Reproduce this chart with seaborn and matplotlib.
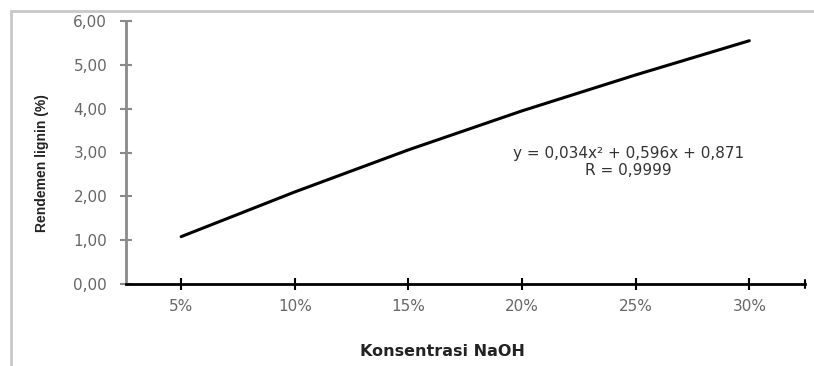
import matplotlib
matplotlib.use("Agg")
import matplotlib.pyplot as plt
import seaborn as sns
import numpy as np
import pandas as pd
from matplotlib.patches import Rectangle
from matplotlib.ticker import FuncFormatter, MultipleLocator

categories = ["5%", "10%", "15%", "20%", "25%", "30%"]
rendemen = [1.08, 2.10, 3.06, 3.95, 4.77, 5.55]
equation = "y = 0,034x\u00b2 + 0,596x + 0,871"
r_text = "R = 0,9999"

sns.set_theme(style="white")
plt.rcParams['font.family'] = ['DejaVu Sans']

df = pd.DataFrame({"konsentrasi": categories, "rendemen": rendemen})

fig = plt.figure(figsize=(8.14, 3.66), dpi=100)
ax = fig.add_axes([126/814, 1-284/366, (805-126)/814, (284-21)/366])

sns.lineplot(data=df, x="konsentrasi", y="rendemen", ax=ax, color="black",
             linewidth=2.2, sort=False)

ax.set_xlim(-0.485, 5.49)
ax.set_ylim(0, 6)
ax.yaxis.set_major_locator(MultipleLocator(1))
ax.yaxis.set_major_formatter(FuncFormatter(lambda v, p: f"{v:.2f}".replace(".", ",")))
ax.set_xticks(range(len(categories)))
ax.set_xticklabels(categories)

for s in ["top", "right"]:
    ax.spines[s].set_visible(False)
ax.spines["left"].set_color("#8a8a8a")
ax.spines["left"].set_linewidth(2)
ax.spines["bottom"].set_color("black")
ax.spines["bottom"].set_linewidth(2)

ax.tick_params(axis="y", which="major", direction="inout", length=9, width=1.5,
               color="#8a8a8a", labelsize=11, labelcolor="#666666", pad=9, left=True)
ax.tick_params(axis="x", which="major", direction="inout", length=8, width=1.5,
               color="black", labelsize=11, labelcolor="#666666", pad=7, bottom=True)
# end tick at right of x axis
ax.plot([1.0, 1.0], [-0.015, 0.015], transform=ax.transAxes, color="black",
        lw=1.5, clip_on=False)

ax.set_xlabel("Konsentrasi NaOH", fontsize=11.5, fontweight="bold", color="#222222")
ax.xaxis.set_label_coords((442-126)/679, (284-344)/263)
ax.set_ylabel("Rendemen lignin (%)", fontsize=10, fontweight="bold", color="#222222",
              family=["Liberation Sans", "DejaVu Sans"])
ax.yaxis.set_label_coords((49-126)/679, (284-163)/263)

ax.text(0.74, 0.497, equation, transform=ax.transAxes, ha="center", va="center",
        fontsize=11, color="#333333")
ax.text(0.74, 0.432, r_text, transform=ax.transAxes, ha="center", va="center",
        fontsize=11, color="#333333")

fig.patches.append(Rectangle((11/814, -0.1), 1.2, 1.1 - 11/366,
                             transform=fig.transFigure, fill=False,
                             edgecolor="#c8c8c8", linewidth=2, zorder=0))

fig.savefig("out.png", dpi=100)
